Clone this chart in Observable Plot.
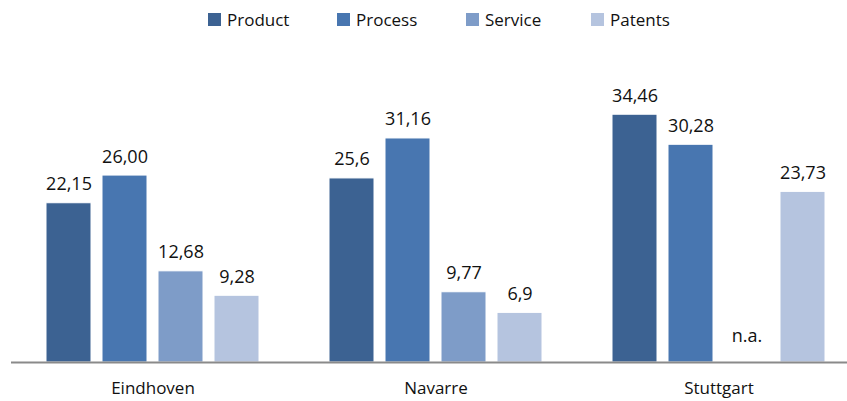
<!DOCTYPE html>
<html>
<head>
<meta charset="utf-8">
<script src="https://cdn.jsdelivr.net/npm/d3@7"></script>
<script src="https://cdn.jsdelivr.net/npm/@observablehq/plot@0.6"></script>
<style>
  body { margin: 0; background: #fff; font-family: "Open Sans", sans-serif; }
  #legend { height: 40px; position: relative; font-size: 17px; color: #111; }
  #legend .item { position: absolute; top: 8px; display: flex; align-items: center; }
  #legend .sw { width: 13px; height: 13px; margin-right: 6px; }
  svg { display: block; }
</style>
</head>
<body>
<div id="legend"></div>
<div id="chart"></div>
<script>
const cities = ["Eindhoven", "Navarre", "Stuttgart"];
const series = ["Product", "Process", "Service", "Patents"];
const colors = ["#3c6292", "#4876b0", "#7e9cc8", "#b5c4df"];
const product = [22.15, 25.6, 34.46];
const process = [26.00, 31.16, 30.28];
const service = [12.68, 9.77, null];
const patents = [9.28, 6.9, 23.73];
const productLabels = ["22,15", "25,6", "34,46"];
const processLabels = ["26,00", "31,16", "30,28"];
const serviceLabels = ["12,68", "9,77", "n.a."];
const patentsLabels = ["9,28", "6,9", "23,73"];

const valuesBySeries = [product, process, service, patents];
const labelsBySeries = [productLabels, processLabels, serviceLabels, patentsLabels];
const rows = [];
cities.forEach((c, i) => series.forEach((s, j) => {
  rows.push({city: c, series: s, value: valuesBySeries[j][i], label: labelsBySeries[j][i]});
}));
const present = rows.filter(d => d.value != null);
const missing = rows.filter(d => d.value == null);

// legend
const legendPos = [208, 337, 466, 591];
const lg = document.getElementById("legend");
series.forEach((s, j) => {
  const it = document.createElement("div");
  it.className = "item";
  it.style.left = legendPos[j] + "px";
  it.innerHTML = `<span class="sw" style="background:${colors[j]}"></span><span>${s}</span>`;
  lg.appendChild(it);
});

const chart = Plot.plot({
  width: 847,
  height: 361,
  marginLeft: 11,
  marginRight: 0,
  marginTop: 0,
  marginBottom: 39,
  style: {fontFamily: "Open Sans, sans-serif", fontSize: "17px", color: "#111", background: "#fff"},
  fx: {domain: cities, range: [11, 860], padding: 0, label: null},
  x: {domain: series, paddingInner: 0.2, paddingOuter: 0.6, axis: null},
  y: {domain: [0, 40], range: [322, 34.4], axis: null},
  color: {domain: series, range: colors},
  marks: [
    Plot.barY(present, {fx: "city", x: "series", y: "value", fill: "series", stroke: "white", strokeWidth: 1}),
    Plot.text(present, {fx: "city", x: "series", y: "value", text: "label", lineAnchor: "bottom", dy: -13, fontSize: 18, fill: "#111"}),
    Plot.text(missing, {fx: "city", x: "series", y: 0, text: "label", lineAnchor: "bottom", dy: -21, fontSize: 18, fill: "#111"}),
    Plot.ruleY([0], {stroke: "#8a8a8a", strokeWidth: 2}),
    Plot.axisFx({anchor: "bottom", tickSize: 0, tickPadding: 19, fontSize: 17, label: null})
  ]
});
document.getElementById("chart").appendChild(chart);
</script>
</body>
</html>
